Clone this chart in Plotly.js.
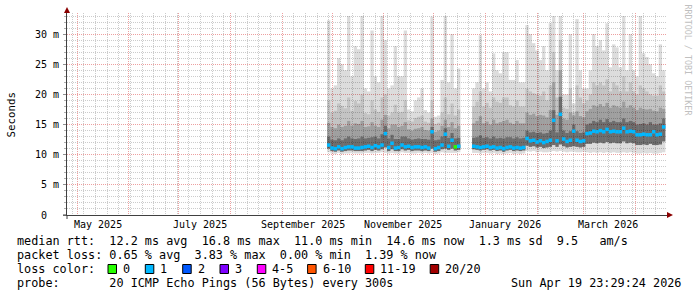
<!DOCTYPE html>
<html><head><meta charset="utf-8">
<script src="https://cdn.plot.ly/plotly-3.0.1.min.js"></script>
<style>html,body{margin:0;padding:0;background:#fff}#chart{width:697px;height:297px}</style>
</head><body><div id="chart"></div>
<script>
// ---- data (ms), 2-day steps ----
const dates = [
"2025-09-29","2025-10-01","2025-10-03","2025-10-05","2025-10-07","2025-10-09","2025-10-11","2025-10-13","2025-10-15","2025-10-17",
"2025-10-19","2025-10-21","2025-10-23","2025-10-25","2025-10-27","2025-10-29","2025-10-31","2025-11-02","2025-11-04","2025-11-06",
"2025-11-08","2025-11-10","2025-11-12","2025-11-14","2025-11-16","2025-11-18","2025-11-20","2025-11-22","2025-11-24","2025-11-26",
"2025-11-28","2025-11-30","2025-12-02","2025-12-04","2025-12-06","2025-12-08","2025-12-10","2025-12-12","2025-12-14","2025-12-16",
"2025-12-25","2025-12-27","2025-12-29","2025-12-31","2026-01-02","2026-01-04","2026-01-06","2026-01-08","2026-01-10","2026-01-12",
"2026-01-14","2026-01-16","2026-01-18","2026-01-20","2026-01-22","2026-01-24","2026-01-26","2026-01-28","2026-01-30","2026-02-01",
"2026-02-03","2026-02-05","2026-02-07","2026-02-09","2026-02-11","2026-02-13","2026-02-15","2026-02-17","2026-02-19","2026-02-21",
"2026-02-23","2026-02-25","2026-02-27","2026-03-01","2026-03-03","2026-03-05","2026-03-07","2026-03-09","2026-03-11","2026-03-13",
"2026-03-15","2026-03-17","2026-03-19","2026-03-21","2026-03-23","2026-03-25","2026-03-27","2026-03-29","2026-03-31","2026-04-02",
"2026-04-04","2026-04-06","2026-04-08","2026-04-10","2026-04-12","2026-04-14","2026-04-16","2026-04-18"];

const medianRtt = [
11.6,11.1,11.0,11.3,11.0,11.2,11.3,11.3,11.1,11.1,11.2,11.3,11.4,11.2,11.5,11.3,11.6,13.5,11.2,11.9,
11.1,11.2,11.6,11.3,11.4,11.2,11.3,11.3,11.2,11.3,11.1,13.8,11.0,11.2,11.6,13.4,11.4,12.4,11.3,11.4,
11.4,11.3,11.2,11.3,11.4,11.2,11.3,11.1,11.2,11.0,11.2,11.3,11.1,11.2,11.1,11.2,12.7,12.3,12.4,12.1,
12.3,12.0,12.2,12.4,15.7,12.3,16.7,12.6,12.2,12.4,13.9,12.4,12.2,12.3,13.5,13.6,13.9,13.8,14.0,13.8,
14.2,13.8,13.9,13.8,13.8,14.4,13.8,13.9,13.8,13.3,13.3,13.4,13.3,13.3,13.8,13.3,13.4,14.6];

const pingMax = [
32.3,21.0,21.5,26.0,25.0,24.0,33.0,23.0,28.0,27.5,33.0,21.0,20.5,30.6,23.0,22.0,33.0,29.0,21.0,21.5,
28.0,23.0,23.0,30.6,17.5,17.2,19.0,19.5,21.0,17.4,17.0,32.9,16.3,16.5,22.4,33.0,22.0,30.0,21.0,24.3,
21.0,22.0,29.8,21.0,22.0,20.5,26.8,24.0,23.5,27.0,27.0,22.4,22.4,25.7,22.0,22.0,31.5,30.0,28.5,27.3,
25.7,28.0,24.0,31.8,33.0,24.0,33.0,20.0,20.0,30.0,18.5,32.5,24.0,21.0,21.0,24.0,30.0,28.0,29.0,27.3,
31.8,24.5,28.3,27.8,24.5,33.0,24.0,30.0,24.0,23.0,33.0,26.8,26.2,25.0,23.5,23.0,28.3,24.0];

const ping90 = [
19.0,17.0,17.3,18.5,18.1,17.7,19.5,17.3,18.9,18.5,20.0,16.9,16.7,19.0,17.5,17.1,19.5,20.0,16.5,17.0,
18.3,17.0,17.1,19.0,15.7,15.5,16.1,16.3,16.5,15.5,15.3,19.0,15.1,15.3,17.0,19.5,16.7,18.5,16.5,17.5,
18.0,18.8,20.5,18.0,18.6,17.8,19.5,18.8,18.6,19.5,19.5,18.2,18.0,19.0,18.0,18.0,21.0,20.5,20.2,20.0,
19.8,20.5,19.0,21.5,27.0,19.5,29.0,17.8,17.6,21.0,17.0,21.5,19.5,18.5,19.0,20.0,22.0,21.5,22.0,21.5,
22.5,20.5,22.0,21.5,20.5,23.0,20.5,22.0,20.5,20.0,21.5,21.0,20.5,20.0,19.8,19.8,21.5,20.5];

const ping75 = [
15.3,14.6,14.4,15.0,14.6,14.8,15.6,14.8,15.2,15.1,15.6,14.6,14.7,15.4,14.8,14.6,15.8,16.6,14.4,15.0,
15.0,14.6,14.8,15.4,14.2,14.0,14.3,14.4,14.6,14.1,14.0,16.0,13.8,14.0,14.8,15.8,14.6,15.4,14.4,14.8,
15.2,15.6,16.4,15.2,15.5,15.0,15.8,15.2,15.4,15.6,15.8,15.3,15.1,15.6,15.2,15.2,17.0,16.6,16.8,16.4,
16.6,16.5,16.2,17.4,22.0,16.6,24.0,16.0,15.8,17.0,16.5,17.2,16.4,16.2,17.2,17.6,18.2,18.0,18.4,18.0,
18.6,17.8,18.2,18.0,17.8,18.8,17.8,18.2,17.8,17.4,17.8,17.6,17.5,17.6,17.3,17.2,17.8,17.6];

const ping60 = [
13.0,12.5,12.4,12.7,12.4,12.7,13.0,12.7,12.6,12.7,13.0,12.7,12.8,12.9,13.0,12.7,13.4,14.8,12.7,13.3,
12.6,12.6,13.0,13.0,12.7,12.5,12.6,12.7,12.6,12.6,12.5,14.6,12.4,12.5,13.0,14.4,12.8,13.6,12.7,12.8,
12.8,12.9,13.2,12.8,12.9,12.7,13.0,12.7,12.8,12.7,12.9,12.9,12.7,12.9,12.7,12.8,14.0,13.7,13.8,13.6,
13.7,13.5,13.6,14.0,17.4,13.7,19.6,14.0,13.6,13.9,15.0,13.9,13.6,13.7,15.0,15.2,15.6,15.4,15.8,15.4,
15.9,15.4,15.6,15.4,15.4,16.0,15.4,15.6,15.4,15.0,15.1,15.2,15.0,15.4,15.0,15.0,15.2,16.0];

const ping15 = [
11.0,10.6,10.5,10.7,10.5,10.6,10.7,10.7,10.6,10.6,10.6,10.7,10.8,10.6,10.8,10.7,10.9,11.2,10.6,10.9,
10.6,10.6,10.9,10.7,10.8,10.6,10.7,10.7,10.6,10.7,10.6,11.0,10.5,10.6,10.9,11.0,10.8,11.0,10.7,10.8,
10.9,10.8,10.7,10.8,10.9,10.7,10.8,10.6,10.7,10.5,10.7,10.8,10.6,10.7,10.6,10.7,11.5,11.3,11.4,11.2,
11.3,11.1,11.2,11.3,11.6,11.3,11.7,11.4,11.2,11.3,11.4,11.3,11.2,11.3,11.8,11.8,12.0,11.9,12.0,11.9,
12.1,11.9,12.0,11.9,11.9,12.2,11.9,12.0,11.9,11.6,11.6,11.7,11.6,11.8,11.6,11.6,11.7,12.2];

const pingMin = [
10.4,10.2,10.1,10.3,10.1,10.2,10.2,10.3,10.2,10.2,10.2,10.3,10.3,10.2,10.3,10.3,10.4,10.3,10.2,10.3,
10.2,10.2,10.4,10.3,10.3,10.2,10.2,10.3,10.2,10.3,10.2,10.3,10.1,10.2,10.4,10.3,10.3,10.3,10.3,10.4,
10.3,10.3,10.2,10.3,10.3,10.2,10.3,10.1,10.2,10.1,10.2,10.3,10.1,10.2,10.1,10.2,10.6,10.5,10.6,10.4,
10.5,10.4,10.4,10.5,10.6,10.5,10.6,10.5,10.4,10.5,10.5,10.4,10.4,10.5,10.4,10.3,10.4,10.3,10.4,10.3,
10.4,10.3,10.4,10.3,10.3,10.4,10.3,10.4,10.3,10.2,10.2,10.3,10.2,10.3,10.2,10.2,10.3,10.4];

// lost pings per step (selects median colour)
const lostPings = [
1,1,1,1,1,1,1,1,1,1,1,1,1,1,1,1,1,1,1,1,
1,1,1,1,1,1,1,1,1,1,1,1,1,1,1,1,1,1,0,1,
1,1,1,1,1,1,1,1,1,1,1,1,1,1,1,1,1,1,1,1,
1,1,1,1,1,1,1,1,1,1,1,1,1,1,1,1,1,1,1,1,
1,1,1,1,1,1,1,1,1,1,1,1,1,1,1,1,1,1];

const lossLabels = ["0","1","2","3","4-5","6-10","11-19","20/20"];
const lossColors = ["#26ff00","#00b8ff","#0059ff","#7e00ff","#ff00ff","#ff5500","#ff0000","#a10000"];

const yTickVals = [0,5,10,15,20,25,30];
const yTickText = ["0\u00a0\u00a0","5 m","10 m","15 m","20 m","25 m","30 m"];
const monthLabels = ["May 2025","July 2025","September 2025","November 2025","January 2026","March 2026"];
const monthLabelPos = ["2025-05-13 14:00","2025-07-13 14:00","2025-09-13 20:00","2025-11-12 12:00","2026-01-12 18:00","2026-03-15 10:00"];

const statsLine1 = "median rtt:  12.2 ms avg  16.8 ms max  11.0 ms min  14.6 ms now  1.3 ms sd  9.5   am/s";
const statsLine2 = "packet loss: 0.65 % avg  3.83 % max  0.00 % min  1.39 % now";
const probeLine = "probe:       20 ICMP Echo Pings (56 Bytes) every 300s";
const stampLine = "Sun Apr 19 23:29:24 2026";

// ---- drawing ----
const L=67, R=667, T=13, B=215;
const px = x => (x-L)/(R-L);
const py = y => (B-y)/(B-T);
const nb = s => s.replace(/ /g,"\u00a0");
const MONO = "DejaVu Sans Mono";
const DAY = 86400000;

const bands = [
  {lo: pingMin, hi: pingMax, c: "rgba(0,0,0,0.137)"},
  {lo: ping15, hi: ping90, c: "rgba(0,0,0,0.11)"},
  {lo: ping15, hi: ping75, c: "rgba(0,0,0,0.185)"},
  {lo: ping15, hi: ping60, c: "rgba(0,0,0,0.31)"}
];
const traces = bands.map(b => ({
  type: "bar", x: dates, base: b.lo, y: b.hi.map((v,i)=>v-b.lo[i]),
  width: 2*DAY, marker: {color: b.c, line: {width: 0}}, hoverinfo: "skip", showlegend: false
}));
traces.push({
  type: "scatter", mode: "markers", x: dates, y: medianRtt,
  marker: {symbol: "square", size: 3.5, color: lostPings.map(k=>lossColors[k]), line: {width: 0}},
  showlegend: false, hoverinfo: "skip"
});

const ann = [];
const txt = (x, y, s, opts={}) => ann.push(Object.assign({
  xref: "paper", yref: "paper", x: px(x), y: py(y), text: nb(s), showarrow: false,
  xanchor: "left", yanchor: "middle", font: {family: MONO, size: 11.8, color: "#000"}, borderpad: 0
}, opts));

txt(16, 241, statsLine1);
txt(16, 255, statsLine2);
txt(16, 269, "loss color:");
txt(16, 283, probeLine);
txt(682, 283, stampLine, {xanchor: "right"});
txt(10.5, 115, "Seconds", {xanchor: "center", textangle: -90, font: {family: MONO, size: 10.8, color: "#000"}});
txt(687.5, 60, "RRDTOOL / TOBI OETIKER", {xanchor: "center", textangle: 90, font: {family: MONO, size: 8.4, color: "#c0c0c0"}});

monthLabels.forEach((m,i) => ann.push({
  xref: "x", yref: "paper", x: monthLabelPos[i], y: py(224), text: nb(m), showarrow: false,
  xanchor: "center", yanchor: "middle", font: {family: MONO, size: 10, color: "#000"}, borderpad: 0
}));

const boxX = [108,145.3,182.7,220,257.3,307.6,365.3,430.2];
const shapes = [];
lossLabels.forEach((lab,i) => {
  shapes.push({type: "rect", xref: "paper", yref: "paper", x0: px(boxX[i]), x1: px(boxX[i]+8.5),
    y0: py(273.5), y1: py(264.5), fillcolor: lossColors[i], line: {color: "#000", width: 1}});
  txt(boxX[i]+14, 269, lab);
});
// axis arrows and axis extensions
shapes.push({type: "line", xref: "paper", yref: "paper", x0: px(63), x1: px(67), y0: py(215), y1: py(215), line: {color: "#404040", width: 1}});
shapes.push({type: "line", xref: "paper", yref: "paper", x0: px(67), x1: px(67), y0: py(215), y1: py(219), line: {color: "#404040", width: 1}});
shapes.push({type: "path", xref: "paper", yref: "paper",
  path: `M ${px(64)} ${py(13)} L ${px(70)} ${py(13)} L ${px(67)} ${py(7)} Z`, fillcolor: "#8b0000", line: {width: 0}});
shapes.push({type: "path", xref: "paper", yref: "paper",
  path: `M ${px(667)} ${py(212)} L ${px(667)} ${py(218)} L ${px(673)} ${py(215)} Z`, fillcolor: "#8b0000", line: {width: 0}});

const layout = {
  width: 697, height: 297, margin: {l: L, r: 697-R, t: T, b: 297-B, pad: 0},
  paper_bgcolor: "#fff", plot_bgcolor: "#fff", barmode: "overlay", showlegend: false,
  font: {family: MONO, size: 10, color: "#000"},
  xaxis: {
    type: "date", range: ["2025-04-24 23:29:24", "2026-04-19 23:29:24"], fixedrange: true,
    tick0: "2025-05-01", dtick: "M1", showticklabels: false, ticks: "",
    showgrid: true, gridcolor: "#eda0a0", griddash: "1px,1px", gridwidth: 1,
    minor: {dtick: 7*DAY, tick0: "2025-05-05", showgrid: true, gridcolor: "#cccccc", griddash: "1px,1px", gridwidth: 1},
    showline: true, linecolor: "#404040", linewidth: 1, zeroline: false
  },
  yaxis: {
    range: [0, 33.5], fixedrange: true, tickvals: yTickVals, ticktext: yTickText,
    tickfont: {family: MONO, size: 10, color: "#000"}, ticks: "outside", ticklen: 3, tickcolor: "#909090",
    ticklabelstandoff: 2,
    showgrid: true, gridcolor: "#eda0a0", griddash: "1px,1px", gridwidth: 1,
    minor: {dtick: 1, showgrid: true, gridcolor: "#cccccc", griddash: "1px,1px", gridwidth: 1, ticks: "outside", ticklen: 2, tickcolor: "#b0b0b0"},
    showline: true, linecolor: "#404040", linewidth: 1, zeroline: false
  },
  annotations: ann, shapes: shapes
};
Plotly.newPlot("chart", traces, layout, {staticPlot: true, displayModeBar: false});
</script></body></html>
